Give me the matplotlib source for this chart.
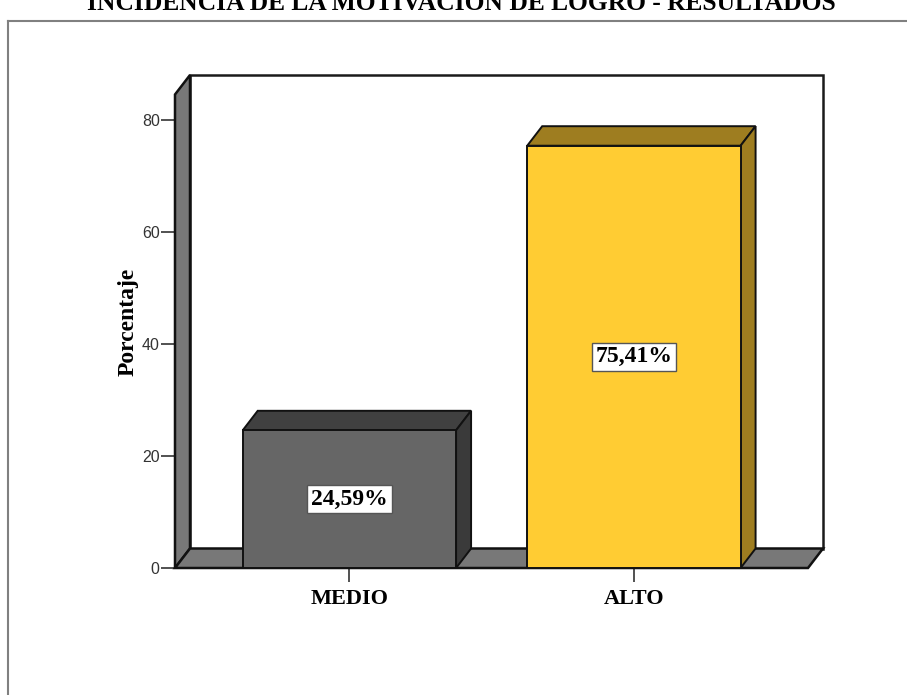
import matplotlib.pyplot as plt
from matplotlib.patches import Polygon, Rectangle
from matplotlib.lines import Line2D

# datos
categorias = ['MEDIO', 'ALTO']
porcentajes = [24.59, 75.41]
etiquetas = ['24,59%', '75,41%']
y_ticks = [0, 20, 40, 60, 80]
titulo = 'INCIDENCIA DE LA MOTIVACION DE LOGRO - RESULTADOS'

col_frente = ['#666666', '#FFCC33']
col_lado = ['#3a3a3a', '#9E7D20']
col_tapa = ['#404040', '#9E7D20']
gris = '#787878'

plt.rcParams['font.family'] = ['Liberation Sans', 'DejaVu Sans']
serif = ['Liberation Serif', 'DejaVu Serif']

fig = plt.figure(figsize=(9.07, 6.95), dpi=100)
W, H = 907, 695
# marco exterior
fig.add_artist(Line2D([8 / W, 8 / W], [0, 1 - 21 / H], transform=fig.transFigure, color='#808080', lw=1.5))
fig.add_artist(Line2D([8 / W, 1], [1 - 21 / H, 1 - 21 / H], transform=fig.transFigure, color='#808080', lw=1.5))
# titulo recortado arriba (como en la imagen original)
fig.text(461 / W, 1 - 9.5 / H, titulo, ha='center', va='baseline', family=serif,
         fontweight='bold', fontsize=18.4)

ax = fig.add_axes([175 / W, (695 - 568) / H, (823 - 175) / W, (568 - 75) / H])
px_x = 284.5  # pixeles por categoria
px_y = 5.6    # pixeles por unidad
x0 = -0.613
x1 = x0 + (823 - 175) / px_x
ytop = (568 - 75) / px_y
dx = 15 / px_x
dy = 19.5 / px_y
ax.set_xlim(x0, x1)
ax.set_ylim(0, ytop)
for s in ax.spines.values():
    s.set_visible(False)
ax.patch.set_visible(False)

lw = 1.8
# pared del fondo
ax.add_patch(Rectangle((x0 + dx, dy), x1 - x0 - dx, ytop - dy, facecolor='white',
                       edgecolor='#1a1a1a', lw=lw, clip_on=False, zorder=1))
# pared izquierda
ax.add_patch(Polygon([(x0, 0), (x0, ytop - dy), (x0 + dx, ytop), (x0 + dx, dy)],
                     closed=True, facecolor=gris, edgecolor='#111111', lw=lw, clip_on=False, zorder=2))
# piso
xf = x1 - dx
ax.add_patch(Polygon([(x0, 0), (xf, 0), (x1, dy), (x0 + dx, dy)], closed=True,
                     facecolor=gris, edgecolor='#111111', lw=lw, clip_on=False, zorder=2))

w = 0.75
for i, (cat, v) in enumerate(zip(categorias, porcentajes)):
    a, b = i - w / 2, i + w / 2
    ax.add_patch(Polygon([(a, v), (b, v), (b + dx, v + dy), (a + dx, v + dy)], closed=True,
                         facecolor=col_tapa[i], edgecolor='#111111', lw=1.4, zorder=3))
    ax.add_patch(Polygon([(b, 0), (b, v), (b + dx, v + dy), (b + dx, dy)], closed=True,
                         facecolor=col_lado[i], edgecolor='#111111', lw=1.4, zorder=3))
    ax.add_patch(Rectangle((a, 0), w, v, facecolor=col_frente[i], edgecolor='#111111',
                           lw=1.4, zorder=4))
    ax.text(i, v / 2, etiquetas[i], ha='center', va='center', family=serif, fontweight='bold',
            fontsize=17, zorder=5,
            bbox=dict(boxstyle='square,pad=0.16', facecolor='white', edgecolor='#555555', lw=1))

ax.set_xticks(range(len(categorias)))
ax.set_xticklabels(categorias, family=serif, fontweight='bold', fontsize=16)
ax.set_yticks(y_ticks)
ax.set_yticklabels([str(t) for t in y_ticks], fontsize=11.5, color='#333333')
ax.tick_params(axis='y', length=10, width=1.2, color='#333333', pad=1)
ax.tick_params(axis='x', length=10, width=1.2, color='#333333', pad=5)
ax.set_ylabel('Porcentaje', family=serif, fontweight='bold', fontsize=17, labelpad=2)

fig.savefig('out.png', dpi=100)
